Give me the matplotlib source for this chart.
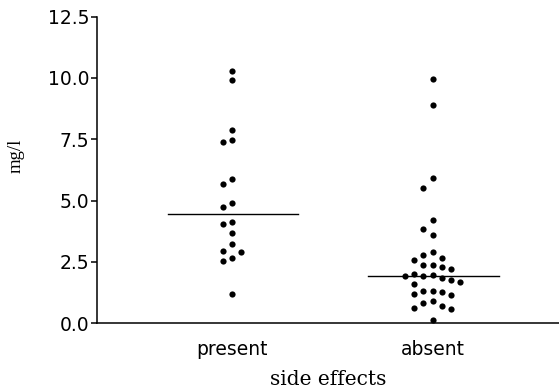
import numpy as np
import matplotlib
matplotlib.use("Agg")
import matplotlib.pyplot as plt

# groups and values (mg/l)
groups = ["present", "absent"]
present = [10.30, 9.90, 7.87, 7.47, 7.39, 5.86, 5.69, 4.90, 4.75, 4.14, 4.05,
           3.67, 3.22, 2.96, 2.92, 2.67, 2.53, 1.20]
absent = [9.95, 8.90, 5.90, 5.53, 4.19, 3.84, 3.61, 2.91, 2.77, 2.68, 2.58,
          2.37, 2.37, 2.30, 2.20, 2.02, 1.95, 1.92, 1.92, 1.83, 1.75, 1.69,
          1.62, 1.33, 1.33, 1.26, 1.18, 1.15, 0.90, 0.81, 0.72, 0.62, 0.58, 0.15]
yticks = [0.0, 2.5, 5.0, 7.5, 10.0, 12.5]


def swarm(vals, col_w=0.046, min_dy=0.38):
    # simple column beeswarm: put each point in the nearest free column
    order = np.argsort(vals)[::-1]
    placed = []
    offs = np.zeros(len(vals))
    for i in order:
        k = 0
        while True:
            cands = [0] if k == 0 else [-k, k]
            ok = None
            for c in cands:
                if all(not (pc == c and abs(py - vals[i]) < min_dy) for pc, py in placed):
                    ok = c
                    break
            if ok is not None:
                placed.append((ok, vals[i]))
                offs[i] = ok * col_w
                break
            k += 1
    return offs


fig = plt.figure(figsize=(5.59, 3.91), dpi=100)
ax = fig.add_axes([0.1735, 0.1731, 0.8265, 0.7847])

for pos, vals in zip([1, 2], [present, absent]):
    vals = np.array(vals)
    ax.scatter(pos + swarm(vals), vals, s=20, color="black", lw=0, zorder=3)
    med = np.median(vals)
    ax.plot([pos - 0.32, pos + 0.33], [med, med], color="black", lw=1.0)

ax.set_xlim(0.328, 2.63)
ax.set_ylim(0, 12.5)
ax.set_yticks(yticks)
ax.set_yticklabels(["%.1f" % t for t in yticks], fontsize=13.5,
                   family="DejaVu Sans")
ax.set_xticks([1, 2])
ax.set_xticklabels(groups, fontsize=13.5, family="DejaVu Sans")
ax.tick_params(axis="x", length=0, pad=12)
ax.tick_params(axis="y", length=4.5, width=1.1, pad=1)
ax.spines["top"].set_visible(False)
ax.spines["right"].set_visible(False)
ax.spines["left"].set_linewidth(1.1)
ax.spines["bottom"].set_linewidth(1.1)

ax.set_xlabel("side effects", fontsize=14.5, family="DejaVu Serif", labelpad=8)
ax.set_ylabel("mg/l", fontsize=13.5, family="Liberation Serif")
ax.yaxis.set_label_coords(-0.157, 0.545)

fig.savefig("out.png", dpi=100)
